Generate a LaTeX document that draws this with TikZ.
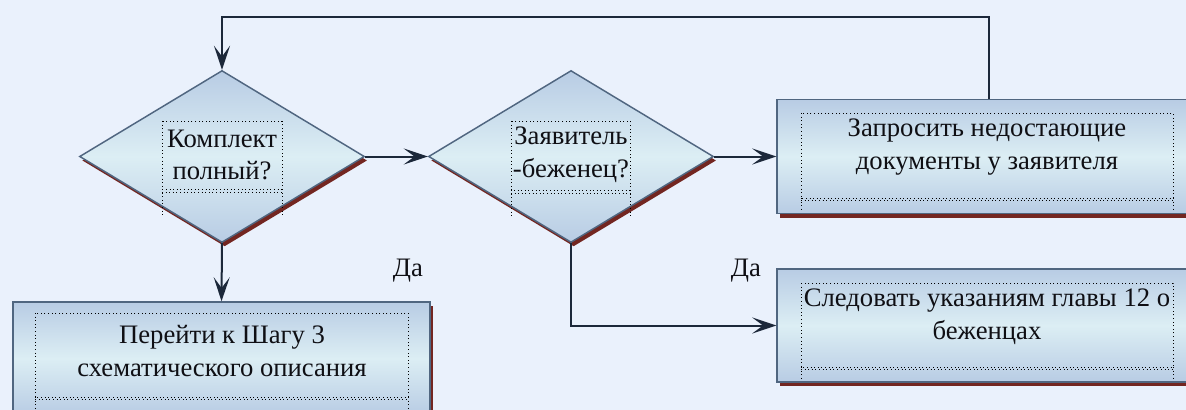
\documentclass[tikz,border=0pt]{standalone}
\usepackage{fontspec}
\setmainfont{Liberation Serif}
\usetikzlibrary{shapes.geometric,arrows.meta,shadows}
\definecolor{bg}{RGB}{234,241,252}
\definecolor{edgeC}{RGB}{80,102,128}
\definecolor{lineC}{RGB}{28,40,58}
\definecolor{shadowred}{RGB}{115,38,33}
\definecolor{fillA}{RGB}{184,204,228}
\definecolor{fillB}{RGB}{220,238,244}
\definecolor{txt}{RGB}{15,15,20}
\begin{document}
\begin{tikzpicture}[x=0.75pt,y=-0.75pt,
  shp/.style={draw=edgeC, line width=1.1pt, top color=fillA, bottom color=fillA, middle color=fillB,
    general shadow={fill=shadowred, shadow xshift=2pt, shadow yshift=-3pt}},
  dec/.style={shp, diamond, minimum width=213.75pt, minimum height=129pt, inner sep=0pt, shape aspect=1.657},
  boxn/.style={shp, rectangle, inner sep=0pt},
  lbl/.style={font=\fontsize{20}{24.5}\selectfont, text=txt, align=center, inner sep=0pt},
  conn/.style={draw=lineC, line width=1.5pt},
  arr/.style={conn, -{Stealth[length=18pt,width=12pt,inset=8pt]}},
  frame/.style={dotted, line width=0.7pt, black},
]
\useasboundingbox (0,0) rectangle (1186,410);
\clip (0,0) rectangle (1186,410);
\fill[bg] (0,0) rectangle (1186,410);

% shapes
\node[dec] (d1) at (222,156.5) {};
\node[dec] (d2) at (571,156.5) {};
\node[boxn, minimum width=318pt, minimum height=85.5pt] (b3) at (989,156.5) {};
\node[boxn, minimum width=312.75pt, minimum height=84.75pt] (b4) at (221.5,358.5) {};
\node[boxn, minimum width=318pt, minimum height=84.75pt] (b5) at (989,325.5) {};

% dotted text frames
\draw[frame] (162,121) rectangle (282,189);
\draw[frame] (162,192) -- (282,192) (162,189) -- (162,217) (282,189) -- (282,217);
\draw[frame] (511,121) rectangle (630,190);
\draw[frame] (511,193) -- (630,193) (511,190) -- (511,217) (630,190) -- (630,217);
\draw[frame] (801,113) rectangle (1173,198);
\draw[frame] (801,200) -- (1173,200) (801,198) -- (801,209) (1173,198) -- (1173,209);
\draw[frame] (35,313) rectangle (408,397);
\draw[frame] (35,399) -- (408,399) (35,397) -- (35,412) (408,397) -- (408,412);
\draw[frame] (801,283) rectangle (1173,367);
\draw[frame] (801,369) -- (1173,369) (801,367) -- (801,381) (1173,367) -- (1173,381);

% texts
\node[lbl] (t1) at (222,155) {Комплект\\полный?};
\node[lbl] (t2) at (571,155) {Заявитель\\-беженец?};
\node[lbl] (t3) at (987,147) {Запросить недостающие\\документы у заявителя};
\node[lbl] (t4) at (222,351) {Перейти к Шагу 3\\схематического описания};
\node[lbl] (t5) at (987,317) {Следовать указаниям главы 12 о\\беженцах};
\node[lbl] (y1) at (408,271) {Да};
\node[lbl] (y2) at (746,271) {Да};

% connectors
\coordinate (top) at (989,17);
\draw[arr] (d1.east) -- (d2.west);
\draw[arr] (d2.east) -- (b3.west);
\draw[arr] (d1.south) -- (b4.north);
\draw[arr] (d2.south) |- (b5.west);
\draw[arr] (b3.north) -- (top) -| (d1.north);
\end{tikzpicture}
\end{document}
